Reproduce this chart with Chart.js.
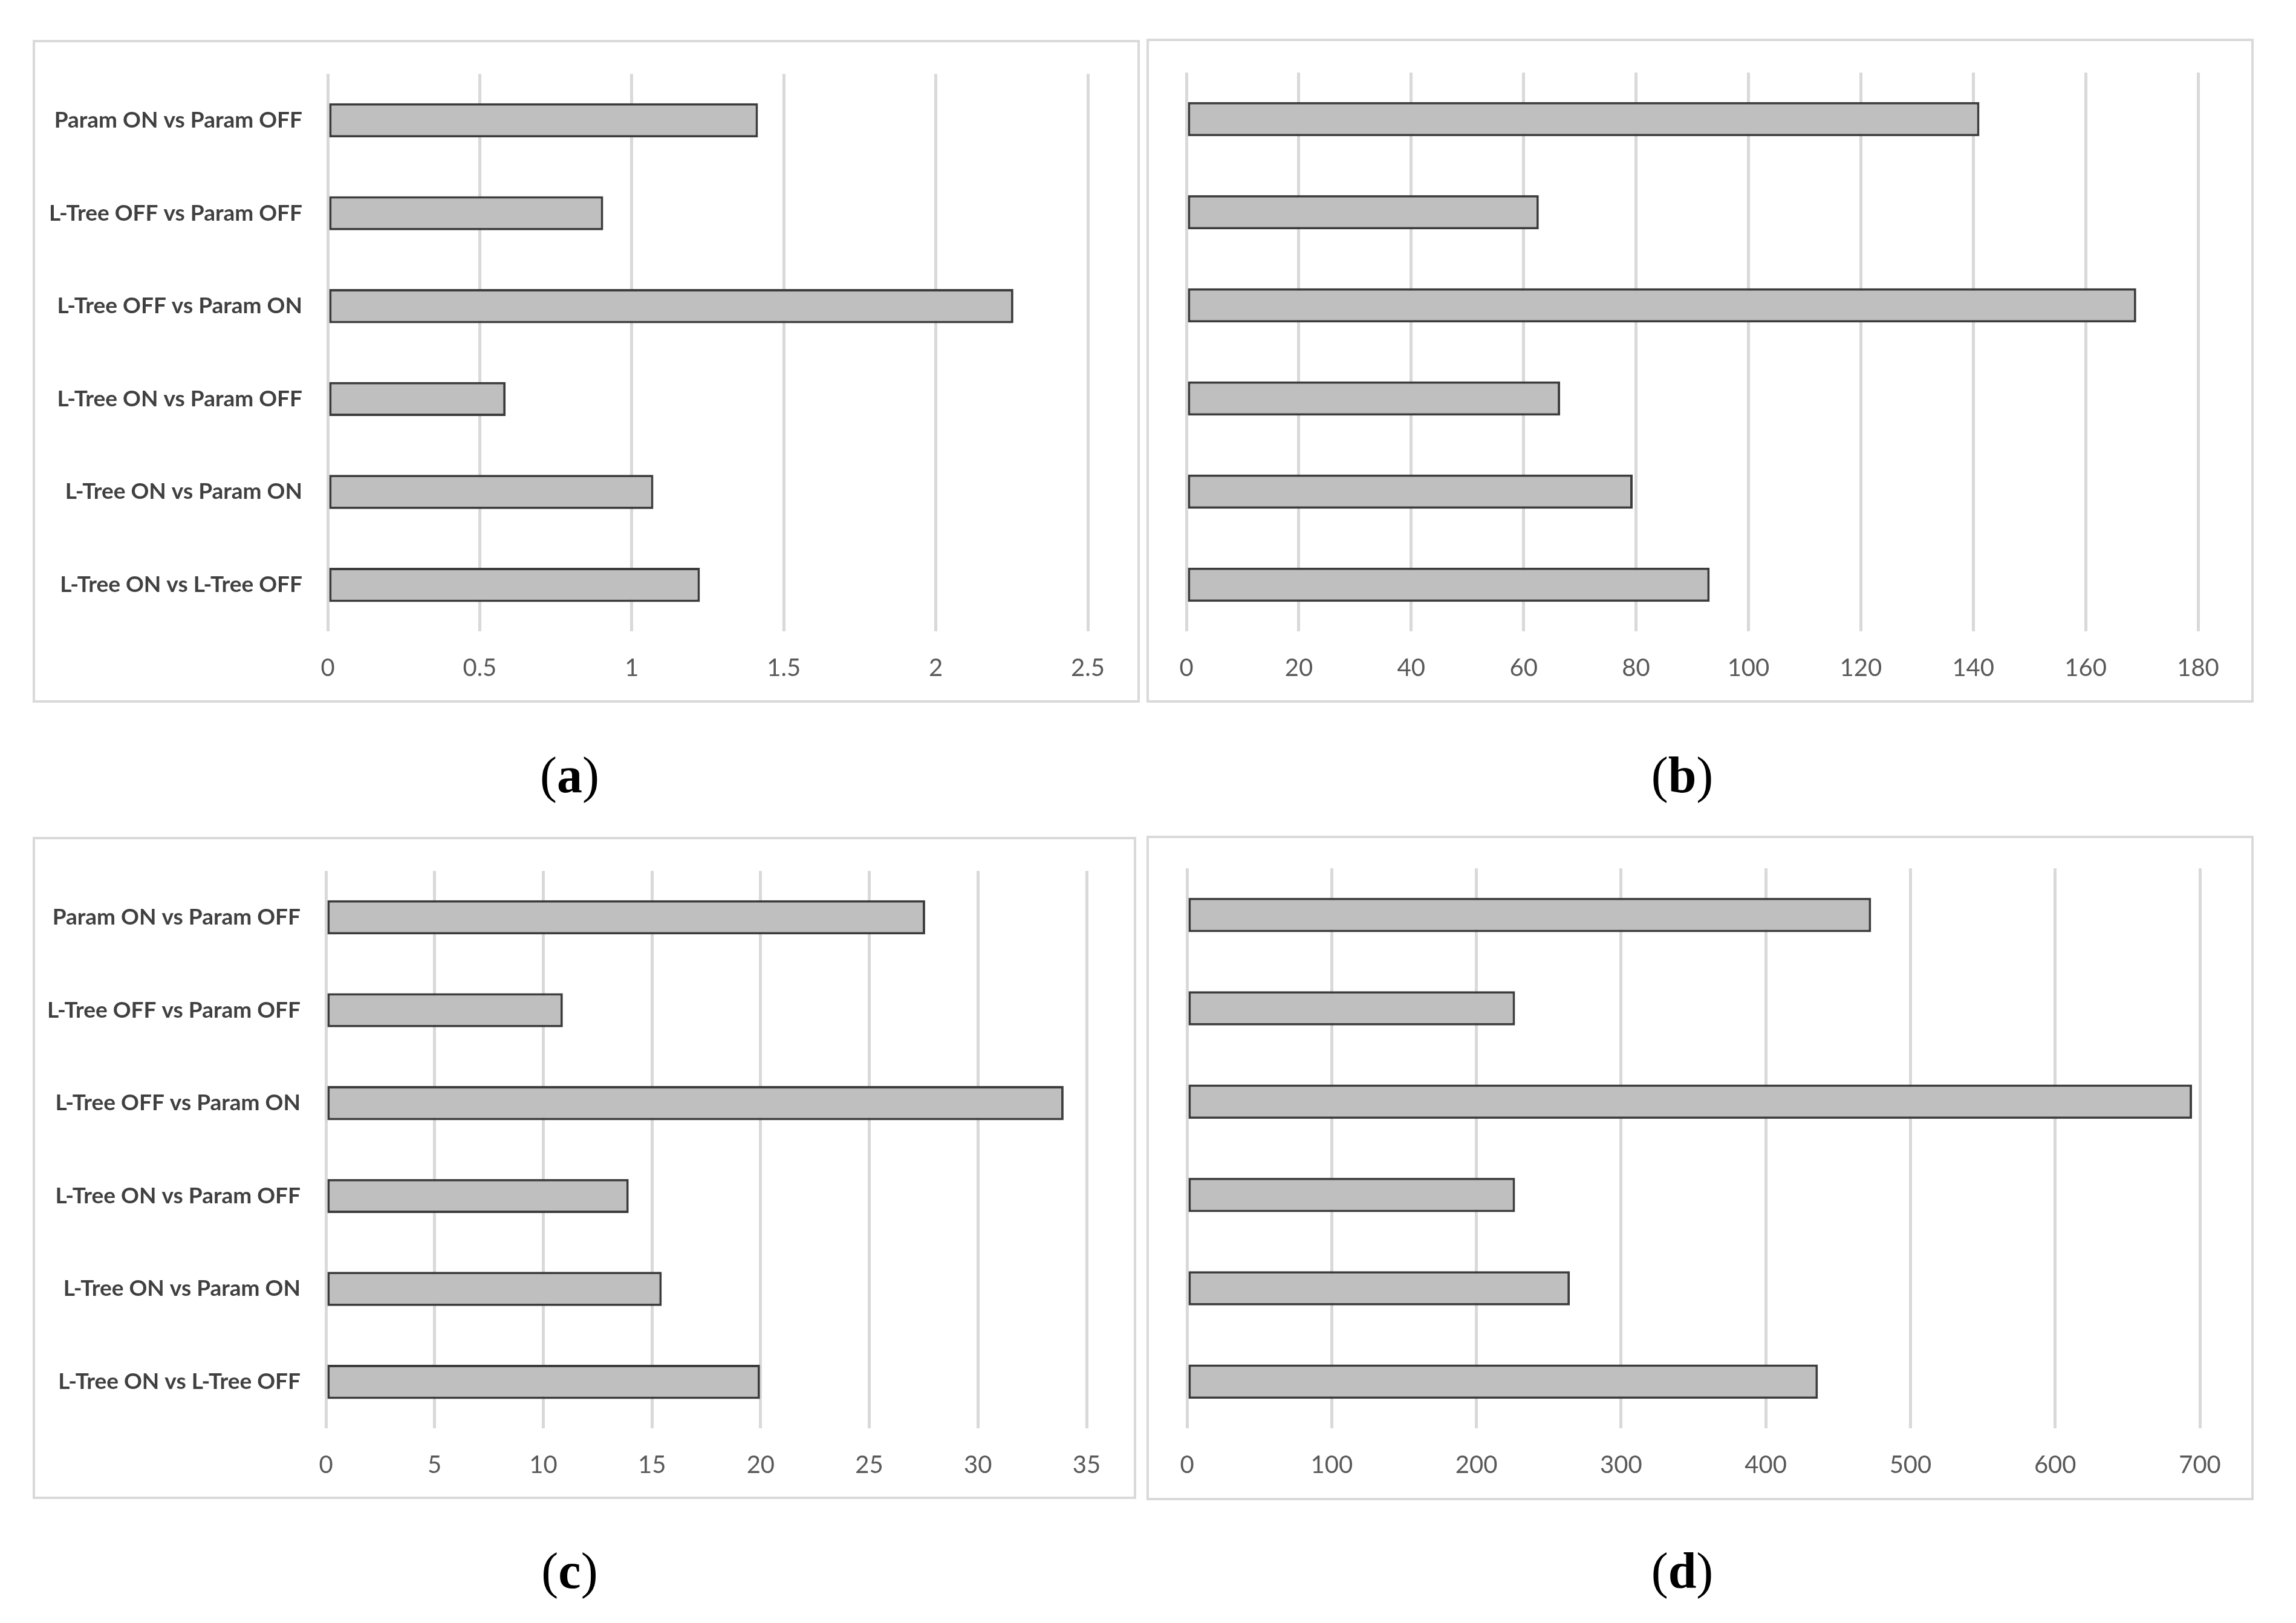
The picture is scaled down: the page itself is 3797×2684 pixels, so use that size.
<!DOCTYPE html>
<html>
<head>
<meta charset="utf-8">
<script src="https://cdn.jsdelivr.net/npm/chart.js@4.4.1/dist/chart.umd.min.js"></script>
<style>
    html, body { margin: 0; padding: 0; background: #fff; }
    body { width: 3797px; height: 2684px; position: relative; overflow: hidden; }
    canvas { position: absolute; }
    .frame { position: absolute; border: 4px solid #d9d9d9; box-sizing: border-box; pointer-events: none; }
    .cap { position: absolute; font-family: "Liberation Serif", "DejaVu Serif", serif; font-size: 84px; line-height: 1; transform: translate(-50%, -50%); color: #000; }
</style>
</head>
<body>
<canvas id="chartA"></canvas>
<canvas id="chartB"></canvas>
<canvas id="chartC"></canvas>
<canvas id="chartD"></canvas>
<div class="cap" style="left:942px; top:1282px;">(<b>a</b>)</div>
<div class="cap" style="left:2782px; top:1282px;">(<b>b</b>)</div>
<div class="cap" style="left:942px; top:2598px;">(<b>c</b>)</div>
<div class="cap" style="left:2782px; top:2598px;">(<b>d</b>)</div>
<script>
    // categories, top to bottom
    const comparisons = [
        'Param ON vs Param OFF',
        'L-Tree OFF vs Param OFF',
        'L-Tree OFF vs Param ON',
        'L-Tree ON vs Param OFF',
        'L-Tree ON vs Param ON',
        'L-Tree ON vs L-Tree OFF'
    ];

    const valuesA = [1.415, 0.906, 2.255, 0.585, 1.071, 1.224];
    const valuesB = [141.1, 62.7, 169.0, 66.5, 79.4, 93.1];
    const valuesC = [27.57, 10.9, 33.94, 13.93, 15.45, 19.97];
    const valuesD = [472.8, 226.7, 694.6, 226.7, 264.6, 436.0];

    const ticksA = [0, 0.5, 1, 1.5, 2, 2.5];
    const ticksB = [0, 20, 40, 60, 80, 100, 120, 140, 160, 180];
    const ticksC = [0, 5, 10, 15, 20, 25, 30, 35];
    const ticksD = [0, 100, 200, 300, 400, 500, 600, 700];

    function makePanel(id, values, ticks, box, showLabels) {
        let canvas = document.getElementById(id);
        canvas.width = box.w;
        canvas.height = box.h;
        canvas.style.left = box.x + 'px';
        canvas.style.top = box.y + 'px';

        let frame = document.createElement('div');
        frame.className = 'frame';
        frame.style.left = box.x + 'px';
        frame.style.top = box.y + 'px';
        frame.style.width = box.w + 'px';
        frame.style.height = box.h + 'px';
        document.body.appendChild(frame);

        return new Chart(canvas, {
            type: 'bar',
            data: {
                labels: comparisons,
                datasets: [{
                    data: values,
                    backgroundColor: '#bfbfbf',
                    borderColor: '#3c3c3c',
                    borderWidth: 4,
                    borderSkipped: false,
                    barPercentage: 0.367,
                    categoryPercentage: 1
                }]
            },
            options: {
                indexAxis: 'y',
                responsive: false,
                animation: false,
                devicePixelRatio: 1,
                layout: {padding: {top: box.top, right: box.right, left: 0, bottom: 0}},
                plugins: {legend: {display: false}, tooltip: {enabled: false}},
                scales: {
                    x: {
                        min: ticks[0],
                        max: ticks[ticks.length - 1],
                        afterBuildTicks: (s) => { s.ticks = ticks.map((v) => ({value: v})); },
                        afterFit: (s) => { s.height = box.axis; },
                        grid: {color: '#d9d9d9', lineWidth: 5, drawTicks: false},
                        border: {display: false},
                        ticks: {
                            padding: 37, color: '#595959', maxRotation: 0,
                            font: {family: 'Lato', size: 40},
                            callback: (v) => String(v)
                        }
                    },
                    y: {
                        afterFit: (s) => { s.width = box.left; },
                        grid: {display: false},
                        border: {display: false},
                        ticks: {display: showLabels, padding: 34, color: '#404040', font: {family: 'Lato', size: 37, weight: 'bold'}}
                    }
                }
            }
        });
    }

    makePanel('chartA', valuesA, ticksA, {x: 54, y: 66, w: 1831, h: 1096, left: 488, right: 86, top: 48, axis: 118}, true);
    makePanel('chartB', valuesB, ticksB, {x: 1896, y: 64, w: 1831, h: 1098, left: 66, right: 92, top: 56, axis: 118}, false);
    makePanel('chartC', valuesC, ticksC, {x: 54, y: 1384, w: 1825, h: 1095, left: 485, right: 82, top: 48, axis: 117}, true);
    makePanel('chartD', valuesD, ticksD, {x: 1896, y: 1382, w: 1831, h: 1099, left: 67, right: 89, top: 54, axis: 119}, false);
</script>
</body>
</html>
